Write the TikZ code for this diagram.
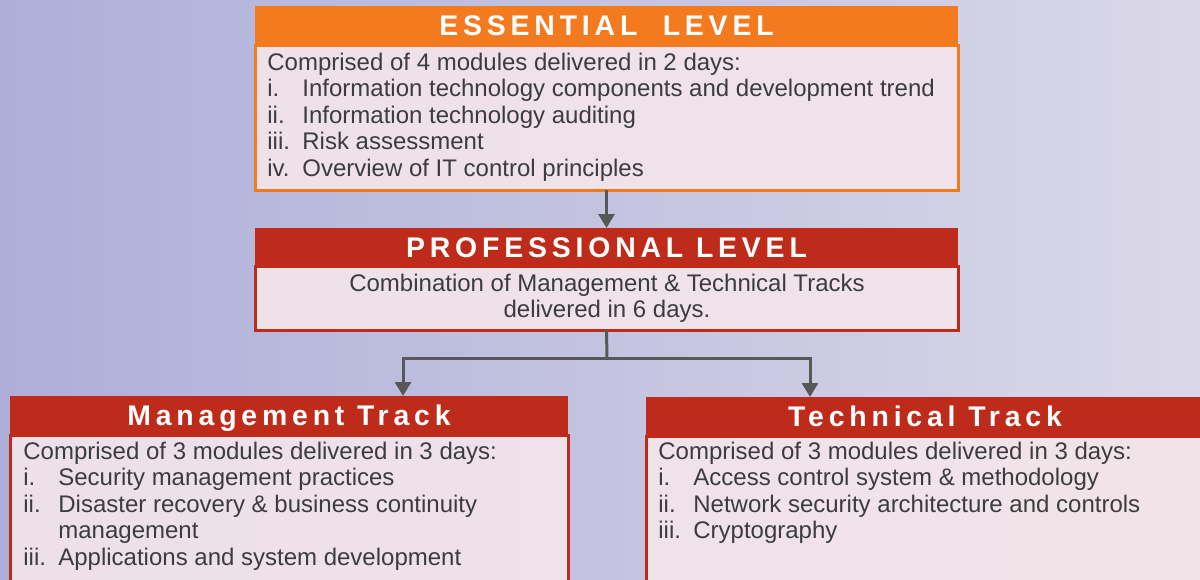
\documentclass[tikz,border=0pt]{standalone}
\usepackage{fontspec}
\setmainfont{Liberation Sans}
\usetikzlibrary{arrows.meta}

\definecolor{essorange}{HTML}{F47A20}
\definecolor{prored}{HTML}{BF2B1A}
\definecolor{bodypink}{HTML}{F4E6EA}
\definecolor{txtgray}{HTML}{3C3C3E}
\definecolor{linkgray}{HTML}{58585A}
\definecolor{bgleft}{HTML}{ADAFD9}
\definecolor{bgright}{HTML}{DAD8E8}

% numbered line with hanging text
\newcommand{\itm}[2]{\makebox[17.5pt][l]{#1}#2}

\begin{document}
\begin{tikzpicture}[x=0.5pt, y=-0.5pt, >={Triangle[width=8pt, length=7pt]},
        head node/.style={rectangle, anchor=north west, inner sep=0pt, outer sep=0pt,
            text=white, text height=10pt, text depth=0pt,
            font=\fontsize{14.2}{16}\selectfont\bfseries\addfontfeatures{LetterSpace=17}},
        body node/.style={rectangle, anchor=north west, inner sep=0pt, outer sep=0pt,
            line width=1.5pt, fill=bodypink, fill opacity=0.9},
        text node/.style={anchor=base west, inner sep=0pt, text=txtgray,
            font=\fontsize{12}{13.25}\selectfont},
        link/.style={draw=linkgray, line width=1.5pt}]

    \clip (0,0) rectangle (1200,579);
    \useasboundingbox (0,0) rectangle (1200,579);

    % Background
    \shade[left color=bgleft, right color=bgright] (0,0) rectangle (1200,579);

    % Essential level
    \node[body node, draw=essorange, minimum width=351.5pt, minimum height=72.5pt] (essbody) at (255,45) {};
    \node[head node, fill=essorange, minimum width=351.5pt, minimum height=19.5pt] (esshead) at (255,6) {ESSENTIAL\ \ LEVEL};
    \node[text node] (esstext) at (267,70) {\parbox[t]{345pt}{\raggedright
        Comprised of 4 modules delivered in 2 days:\\
        \itm{i.}{Information technology components and development trend}\\
        \itm{ii.}{Information technology auditing}\\
        \itm{iii.}{Risk assessment}\\
        \itm{iv.}{Overview of IT control principles}}};

    % Professional level
    \node[body node, draw=prored, minimum width=351.5pt, minimum height=32pt] (probody) at (255,266) {};
    \node[head node, fill=prored, minimum width=351.5pt, minimum height=19pt] (prohead) at (255,228) {PROFESSIONAL LEVEL};
    \node[text node, anchor=base] (protext) at (607,291) {\parbox[t]{300pt}{\centering
        Combination of Management \& Technical Tracks\\
        delivered in 6 days.}};

    % Tracks
    \node[body node, draw=prored, minimum width=279pt, minimum height=85pt] (mgmtbody) at (10,435) {};
    \node[head node, fill=prored, minimum width=279pt, minimum height=19.5pt] (mgmthead) at (10,396) {Management Track};
    \node[text node] (mgmttext) at (23,459) {\parbox[t]{270pt}{\raggedright
        Comprised of 3 modules delivered in 3 days:\\
        \itm{i.}{Security management practices}\\
        \itm{ii.}{Disaster recovery \& business continuity}\\
        \itm{}{management}\\
        \itm{iii.}{Applications and system development}}};

    \node[body node, draw=prored, minimum width=279pt, minimum height=85pt] (techbody) at (646,436) {};
    \node[head node, fill=prored, minimum width=279pt, minimum height=19.5pt] (techhead) at (646,397) {Technical Track};
    \node[text node] (techtext) at (658,459) {\parbox[t]{270pt}{\raggedright
        Comprised of 3 modules delivered in 3 days:\\
        \itm{i.}{Access control system \& methodology}\\
        \itm{ii.}{Network security architecture and controls}\\
        \itm{iii.}{Cryptography}}};

    % Connectors
    \coordinate (split) at (607,358);
    \coordinate (mgmtin) at (403,396);
    \coordinate (techin) at (810,397);

    \draw[link, ->] (essbody.south) -- (prohead.north);
    \draw[link] (probody.south) -- (split);
    \draw[link, ->] (split) -| (mgmtin);
    \draw[link, ->] (split) -| (techin);
\end{tikzpicture}
\end{document}
